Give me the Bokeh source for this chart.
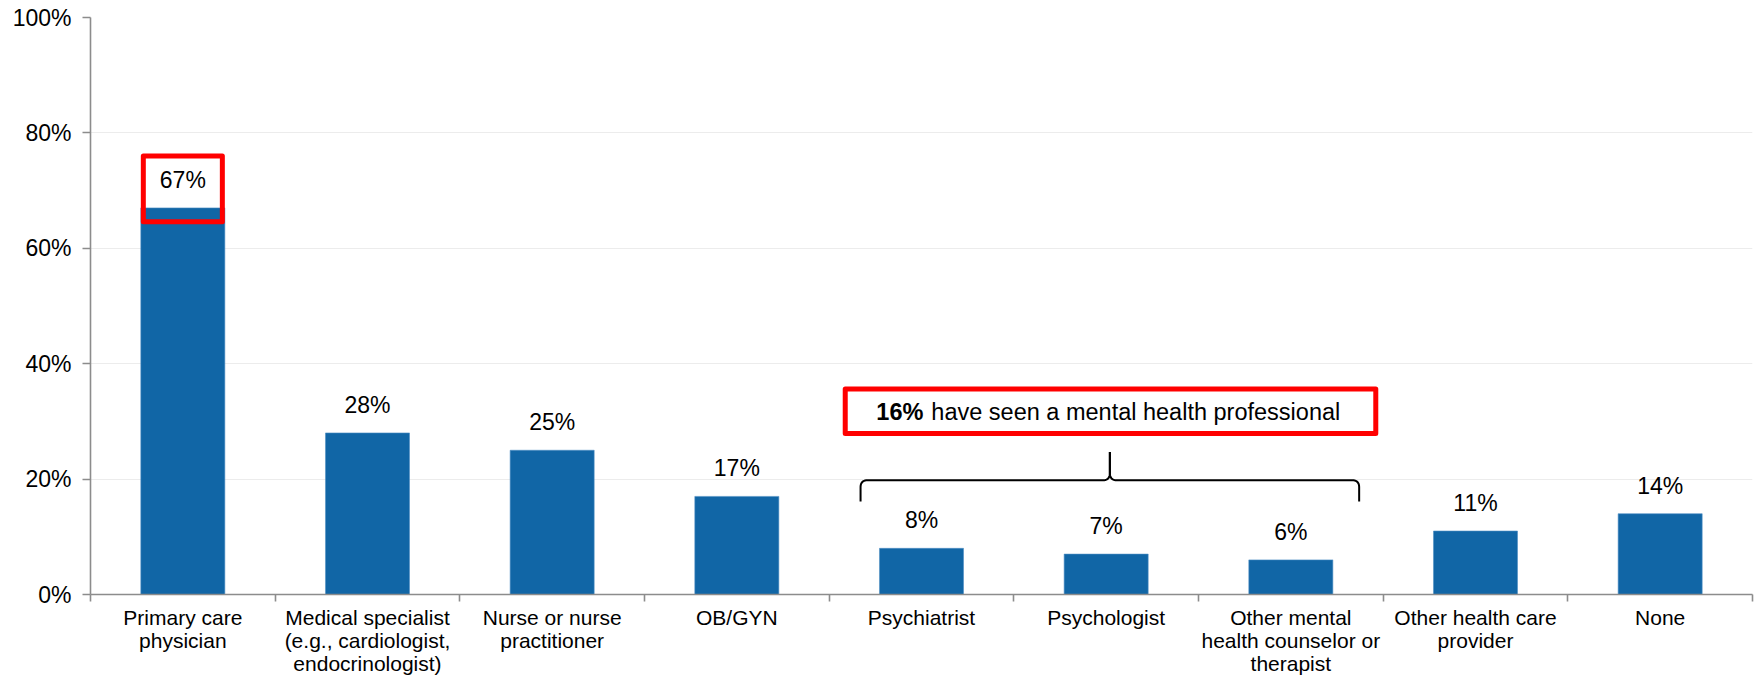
from bokeh.plotting import figure
from bokeh.models import (Range1d, FixedTicker, NumeralTickFormatter, ColumnDataSource,
                          LabelSet, Label)
from bokeh.core.properties import value
from bokeh.embed import file_html
from bokeh.resources import INLINE

# ---------------- data ----------------
categories = [
    "Primary care\nphysician",
    "Medical specialist\n(e.g., cardiologist,\nendocrinologist)",
    "Nurse or nurse\npractitioner",
    "OB/GYN",
    "Psychiatrist",
    "Psychologist",
    "Other mental\nhealth counselor or\ntherapist",
    "Other health care\nprovider",
    "None",
]
values = [0.67, 0.28, 0.25, 0.17, 0.08, 0.07, 0.06, 0.11, 0.14]
value_labels = ["67%", "28%", "25%", "17%", "8%", "7%", "6%", "11%", "14%"]
y_ticks = [0.0, 0.2, 0.4, 0.6, 0.8, 1.0]
note_bold = "16%"
note_rest = "have seen a mental health professional"
highlight_index = 0
group_first, group_last = 4, 6

# ---------------- style ----------------
FONT = "Liberation Sans"
BAR = "#1166a6"
RED = "#ff0000"
AXIS = "#8c8c8c"

n = len(categories)
xc = [i + 0.5 for i in range(n)]
src = ColumnDataSource(dict(x=xc, top=values, lab=value_labels))

p = figure(width=1754, height=678, output_backend="svg", toolbar_location=None,
           x_range=Range1d(0, n), y_range=Range1d(0, 1),
           min_border_left=90, min_border_right=2, min_border_top=17, min_border_bottom=84)
p.outline_line_color = None
p.background_fill_color = "white"

BAR_W = 0.455
p.vbar(x="x", top="top", width=BAR_W, source=src, fill_color=BAR, line_color="#4f8fc4",
       line_width=0.6)

p.add_layout(LabelSet(x="x", y="top", text="lab", source=src, y_offset=28,
                      text_align="center", text_baseline="middle",
                      text_font=value(FONT), text_font_size=value("23px"),
                      text_color="black"))

# axes
p.xgrid.visible = False
p.ygrid.ticker = FixedTicker(ticks=y_ticks)
p.ygrid.grid_line_color = "#ececec"
p.ygrid.grid_line_width = 1

ya = p.yaxis[0]
ya.ticker = FixedTicker(ticks=y_ticks)
ya.formatter = NumeralTickFormatter(format="0%")
ya.axis_line_color = AXIS
ya.axis_line_width = 1.6
ya.major_tick_line_color = AXIS
ya.major_tick_line_width = 1.6
ya.major_tick_out = 8
ya.major_tick_in = 0
ya.minor_tick_line_color = None
ya.major_label_standoff = 11
ya.major_label_text_font = FONT
ya.major_label_text_font_size = "23px"
ya.major_label_text_color = "black"

xa = p.xaxis[0]
xa.ticker = FixedTicker(ticks=xc, minor_ticks=list(range(n + 1)))
xa.major_label_overrides = {x: c for x, c in zip(xc, categories)}
xa.axis_line_color = AXIS
xa.axis_line_width = 1.6
xa.major_tick_out = 0
xa.major_tick_in = 0
xa.major_tick_line_color = None
xa.minor_tick_line_color = AXIS
xa.minor_tick_line_width = 1.6
xa.minor_tick_out = 7
xa.minor_tick_in = 0
xa.major_label_standoff = 4
xa.major_label_text_font = FONT
xa.major_label_text_font_size = "21px"
xa.major_label_text_line_height = 1.02
xa.major_label_text_color = "black"

# ---------------- annotations ----------------
PXX = 1662 / n     # px per x unit
PXY = 577.0        # px per y unit

# red box around highlighted value label
hx = xc[highlight_index]
hv = values[highlight_index]
inset = 2.5 / PXX
p.quad(left=[hx - BAR_W / 2 + inset], right=[hx + BAR_W / 2 - inset],
       bottom=[hv - 0.024], top=[hv + 0.09],
       fill_color=None, line_color=RED, line_width=5, line_join="round")

# red note box
bx0 = group_first + 0.087
bx1 = group_last + 0.96
p.quad(left=[bx0], right=[bx1], bottom=[0.279], top=[0.356],
       fill_color=None, line_color=RED, line_width=5, line_join="round")
anchor_x = group_first + 0.51
p.add_layout(Label(x=anchor_x, y=0.317, text=note_bold, text_align="right",
                   text_baseline="middle", text_font=FONT, text_font_size="23.5px",
                   text_font_style="bold", text_color="black"))
p.add_layout(Label(x=anchor_x, y=0.317, x_offset=8, text=note_rest, text_align="left",
                   text_baseline="middle", text_font=FONT, text_font_size="23.5px",
                   text_color="black"))


# curly brace
def qbez(p0, p1, p2, k=10):
    pts = []
    for j in range(k + 1):
        t = j / k
        pts.append(((1 - t) ** 2 * p0[0] + 2 * (1 - t) * t * p1[0] + t ** 2 * p2[0],
                    (1 - t) ** 2 * p0[1] + 2 * (1 - t) * t * p1[1] + t ** 2 * p2[1]))
    return pts


def half_brace(x_end, x_mid, y_end, y_bar, y_tip, sign):
    rx, ry = 7 / PXX, 7 / PXY
    cx, cy = 7 / PXX, 7 / PXY
    pts = [(x_end, y_end)]
    pts += qbez((x_end, y_bar - ry), (x_end, y_bar), (x_end + sign * rx, y_bar))
    pts += qbez((x_mid - sign * cx, y_bar), (x_mid, y_bar), (x_mid, y_bar + cy))
    pts.append((x_mid, y_tip))
    return [q[0] for q in pts], [q[1] for q in pts]


br_l, br_r, br_c = group_first + 0.17, group_last + 0.87, group_first + 1.52
y_end, y_bar, y_tip = 0.161, 0.198, 0.247
lx, ly = half_brace(br_l, br_c, y_end, y_bar, y_tip, 1)
rx_, ry_ = half_brace(br_r, br_c, y_end, y_bar, y_tip, -1)
p.multi_line(xs=[lx, rx_], ys=[ly, ry_], line_color="black", line_width=2)

open("out.html", "w").write(file_html(p, INLINE))
